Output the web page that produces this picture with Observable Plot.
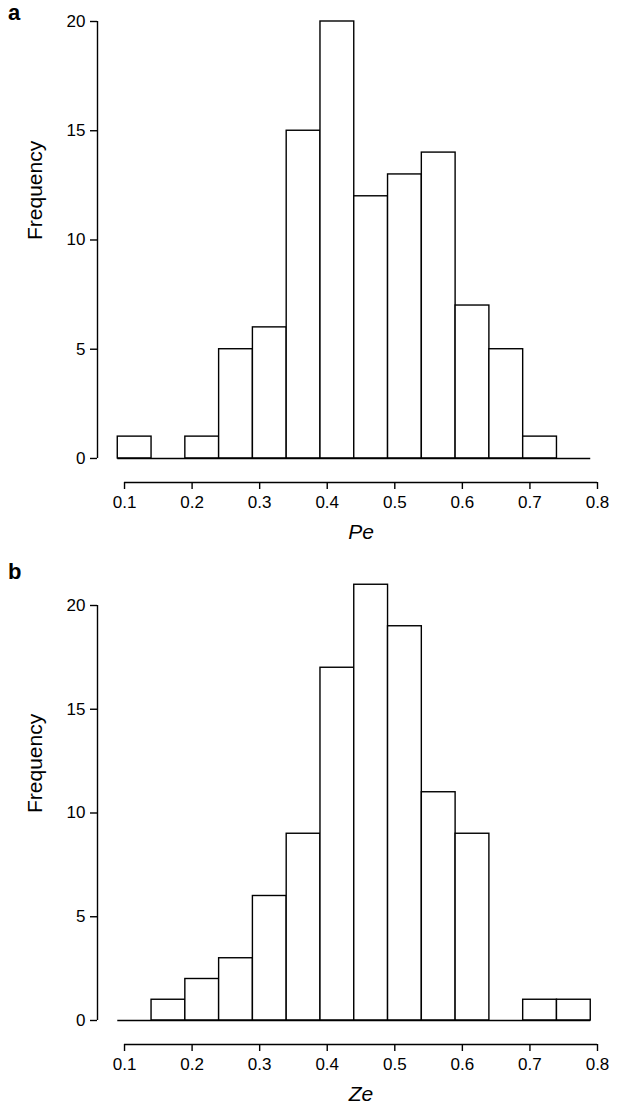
<!DOCTYPE html>
<html><head><meta charset="utf-8">
<script src="https://cdn.jsdelivr.net/npm/d3@7"></script>
<script src="https://cdn.jsdelivr.net/npm/@observablehq/plot@0.6"></script>
<style>
body{margin:0;background:#fff;font-family:"Liberation Sans",Arial,sans-serif}
.panel{position:relative;width:619px;height:557px}
.lab{position:absolute;left:8px;top:0px;font-weight:bold;font-size:22px}
</style></head><body>
<div id="a" class="panel"><div class="lab">a</div></div>
<div id="b" class="panel"><div class="lab" style="top:2px">b</div></div>
<script>
// bin edges (width 0.05) and counts for the two histograms
const binStart = [0.09,0.14,0.19,0.24,0.29,0.34,0.39,0.44,0.49,0.54,0.59,0.64,0.69,0.74]
const pe = [1,0,1,5,6,15,20,12,13,14,7,5,1,0]
const ze = [0,1,2,3,6,9,17,21,19,11,9,0,1,1]
const xTicks = [0.1,0.2,0.3,0.4,0.5,0.6,0.7,0.8]
const yTicks = [0,5,10,15,20]

function hist(counts, label, top, lo, mb) {
  const data = binStart.map((x, i) => ({x1: x, x2: x + 0.05, n: counts[i]}))
  return Plot.plot({
    width: 619, height: 557,
    marginLeft: 97, marginRight: 22, marginTop: top, marginBottom: mb,
    style: {fontFamily: '"Liberation Sans", Arial, sans-serif', fontSize: '17px', color: '#000'},
    x: {domain: [0.06, 0.8], axis: null},
    y: {domain: [lo, 20], axis: null},
    marks: [
      Plot.rectY(data, {x1: 'x1', x2: 'x2', y1: 0, y2: 'n', fill: 'white', stroke: 'black', strokeWidth: 1.4, clip: false}),
      Plot.ruleY([0], {x1: 0.09, x2: 0.79, stroke: 'black', strokeWidth: 1.4}),
      Plot.ruleX([0.06], {y1: 0, y2: 20, strokeWidth: 1.4}),
      Plot.ruleY([lo], {x1: 0.1, x2: 0.8, strokeWidth: 1.4}),
      Plot.axisY(yTicks, {anchor: 'left', tickSize: 7, tickPadding: 5, fontSize: 17, strokeWidth: 1.4, label: null}),
      Plot.axisX(xTicks, {anchor: 'bottom', tickSize: 7, tickPadding: 6, fontSize: 17, strokeWidth: 1.4, tickFormat: d3.format('.1f'), label: null}),
      Plot.text([label], {frameAnchor: 'bottom', dy: 56, fontSize: 21, fontStyle: 'italic', x: 0.45}),
      Plot.text(['Frequency'], {frameAnchor: 'left', dx: -62, rotate: -90, fontSize: 21, y: 10})
    ]
  })
}
d3.select('#a').append(() => hist(pe, 'Pe', 21, -1.1, 75))
d3.select('#b').append(() => hist(ze, 'Ze', 48, -1.157, 70))
</script>
</body></html>
